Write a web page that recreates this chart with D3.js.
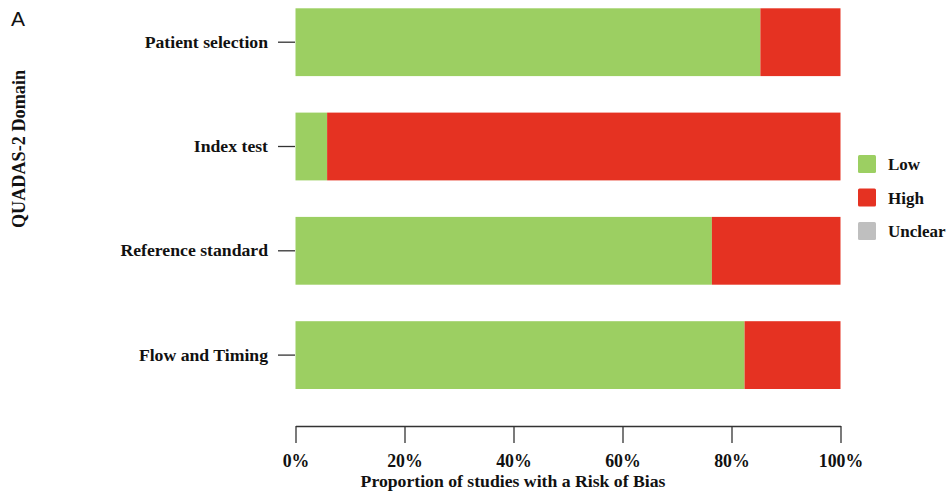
<!DOCTYPE html>
<html><head><meta charset="utf-8">
<script src="https://cdn.jsdelivr.net/npm/d3@7"></script>
<style>body{margin:0;background:#fff}svg{display:block}</style>
</head><body>
<script>
const domains = ["Patient selection","Index test","Reference standard","Flow and Timing"];
const low = [85.3, 5.8, 76.4, 82.4];
const high = [14.7, 94.2, 23.6, 17.6];
const unclear = [0, 0, 0, 0];
const categories = ["Low","High","Unclear"];
const colors = ["#9ccf62","#e53222","#bfbfbf"];
const xTicks = [0,20,40,60,80,100];

const W=947,H=493;
const svg=d3.select("body").append("svg").attr("width",W).attr("height",H);
const serif="'Liberation Serif','Times New Roman',serif";

const x=d3.scaleLinear().domain([0,100]).range([295.5,840.5]);
const y=d3.scaleBand().domain(domains).range([8.3,389]).paddingInner(0.35).paddingOuter(0);

const rows=domains.map((d,i)=>({d,vals:[low[i],high[i],unclear[i]]}));
const stackData=rows.map(r=>({domain:r.d,Low:r.vals[0],High:r.vals[1],Unclear:r.vals[2]}));
const series=d3.stack().keys(categories)(stackData);
const color=d3.scaleOrdinal().domain(categories).range(colors);

svg.append("g").selectAll("g").data(series).join("g").attr("fill",d=>color(d.key))
 .selectAll("rect").data(d=>d).join("rect")
 .attr("x",d=>x(d[0])).attr("width",d=>x(d[1])-x(d[0]))
 .attr("y",d=>y(d.data.domain)).attr("height",y.bandwidth());

// x axis
const xa=svg.append("g").attr("transform","translate(0,426)")
 .call(d3.axisBottom(x).tickValues(xTicks).tickFormat(d=>d+"%").tickSize(17).tickSizeOuter(0));
xa.select(".domain").attr("stroke","#333").attr("stroke-width",1.3);
xa.selectAll(".tick line").attr("stroke","#333").attr("stroke-width",1.3);
xa.selectAll(".tick text").attr("font-family",serif).attr("font-weight","bold").attr("font-size",17.8).attr("fill","#111").attr("dy",0).attr("y",41);

// y axis
const ya=svg.append("g").attr("transform","translate(295,0)")
 .call(d3.axisLeft(y).tickSize(17).tickPadding(10));
ya.select(".domain").remove();
ya.selectAll(".tick line").attr("stroke","#333").attr("stroke-width",1.3);
ya.selectAll(".tick text").attr("font-family",serif).attr("font-weight","bold").attr("font-size",17.7).attr("fill","#111");

svg.append("text").attr("x",513).attr("y",487).attr("text-anchor","middle")
 .attr("font-family",serif).attr("font-weight","bold").attr("font-size",17.7).attr("fill","#111")
 .text("Proportion of studies with a Risk of Bias");

svg.append("text").attr("transform","translate(25,149) rotate(-90)").attr("text-anchor","middle")
 .attr("font-family",serif).attr("font-weight","bold").attr("font-size",18.2).attr("fill","#111")
 .text("QUADAS-2 Domain");

svg.append("text").attr("x",11).attr("y",26).attr("font-family","'Liberation Sans',Arial,sans-serif")
 .attr("font-size",21).attr("fill","#111").text("A");

// legend
const lg=svg.append("g").attr("transform","translate(858,155)");
const li=lg.selectAll("g").data(categories).join("g").attr("transform",(d,i)=>`translate(0,${i*33.5})`);
li.append("rect").attr("width",18).attr("height",18).attr("rx",1.5).attr("fill",d=>color(d));
li.append("text").attr("x",30).attr("y",15).attr("font-family",serif).attr("font-weight","bold")
 .attr("font-size",17).attr("fill","#111").text(d=>d);
</script>
</body></html>
